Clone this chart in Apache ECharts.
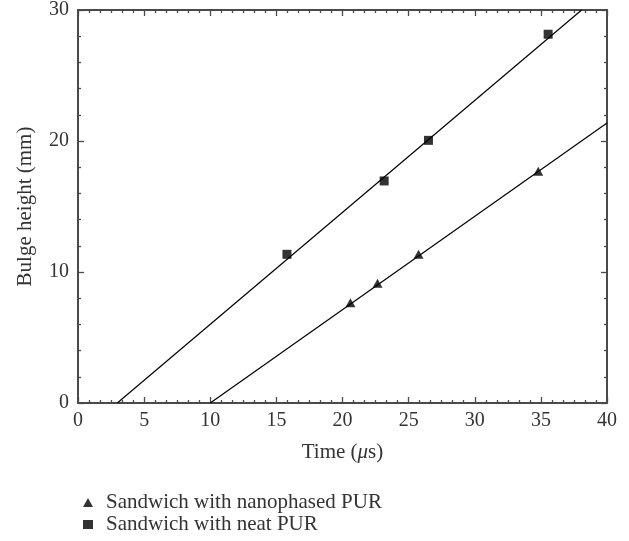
<!DOCTYPE html>
<html>
<head>
<meta charset="utf-8">
<script src="https://cdn.jsdelivr.net/npm/echarts@6/dist/echarts.min.js"></script>
<style>html,body{margin:0;padding:0;background:#fff;}#c{width:629px;height:541px;}</style>
</head>
<body>
<div id="c"></div>
<script>
// Data
var nanoPoints = [[20.6, 7.65], [22.65, 9.15], [25.75, 11.35], [34.8, 17.7]];
var neatPoints = [[15.8, 11.35], [23.15, 16.95], [26.5, 20.05], [35.55, 28.15]];
var nanoFit = [[10.0, 0], [40, 21.37]];
var neatFit = [[2.97, 0], [38.08, 30]];
var xTicks = [0, 5, 10, 15, 20, 25, 30, 35, 40];
var yTicks = [0, 10, 20, 30];
var seriesNames = ['Sandwich with nanophased PUR', 'Sandwich with neat PUR'];

var FONT = 'Liberation Serif';
var AX = '#4a4a4a';
var TXT = '#333333';

var chart = echarts.init(document.getElementById('c'), null, {renderer: 'canvas'});

function mkX(pos, show) {
  return {
    type: 'value', position: pos, min: xTicks[0], max: xTicks[xTicks.length - 1], interval: xTicks[1] - xTicks[0],
    axisLine: {show: true, onZero: false, lineStyle: {color: AX, width: 2}},
    axisTick: {show: true, inside: true, length: 6, lineStyle: {color: AX, width: 1.3}},
    minorTick: {show: true, splitNumber: 6, length: 3, lineStyle: {color: AX, width: 1.3}},
    splitLine: {show: false},
    axisLabel: {show: show, margin: 8, color: TXT, fontFamily: FONT, fontSize: 20},
    name: show ? 'Time ({i|μ}s)' : '', nameLocation: 'middle', nameGap: 39,
    nameTextStyle: {color: TXT, fontFamily: FONT, fontSize: 21, rich: {i: {fontStyle: 'italic', fontFamily: FONT, fontSize: 21, color: TXT}}}
  };
}
function mkY(pos, show) {
  return {
    type: 'value', position: pos, min: yTicks[0], max: yTicks[yTicks.length - 1], interval: yTicks[1] - yTicks[0],
    axisLine: {show: true, onZero: false, lineStyle: {color: AX, width: 2}},
    axisTick: {show: true, inside: true, length: 6, lineStyle: {color: AX, width: 1.3}},
    minorTick: {show: true, splitNumber: 5, length: 3, lineStyle: {color: AX, width: 1.3}},
    splitLine: {show: false},
    axisLabel: {show: show, margin: 9, color: TXT, fontFamily: FONT, fontSize: 20},
    name: show ? 'Bulge height (mm)' : '', nameLocation: 'middle', nameGap: 42,
    nameTextStyle: {color: TXT, fontFamily: FONT, fontSize: 21}
  };
}

chart.setOption({
  animation: false,
  backgroundColor: '#fff',
  grid: {left: 78, right: 22, top: 10, bottom: 138, containLabel: false},
  xAxis: [mkX('bottom', true), mkX('top', false)],
  yAxis: [mkY('left', true), mkY('right', false)],
  legend: {
    orient: 'vertical', left: 83, top: 492, padding: 0,
    itemWidth: 10, itemHeight: 9, itemGap: 1,
    data: [{name: seriesNames[0], icon: 'triangle'}, {name: seriesNames[1], icon: 'rect'}],
    textStyle: {color: TXT, fontFamily: FONT, fontSize: 21, lineHeight: 20, padding: [0, 0, 0, 8]}
  },
  series: [
    {type: 'line', data: nanoFit, showSymbol: false, silent: true, lineStyle: {color: '#000', width: 1.2}, z: 2},
    {type: 'line', data: neatFit, showSymbol: false, silent: true, lineStyle: {color: '#000', width: 1.2}, z: 2},
    {name: seriesNames[0], type: 'scatter', data: nanoPoints, symbol: 'triangle', symbolSize: [10, 9], itemStyle: {color: '#000'}, z: 3},
    {name: seriesNames[1], type: 'scatter', data: neatPoints, symbol: 'rect', symbolSize: 9, itemStyle: {color: '#000'}, z: 3}
  ]
});
</script>
</body>
</html>
